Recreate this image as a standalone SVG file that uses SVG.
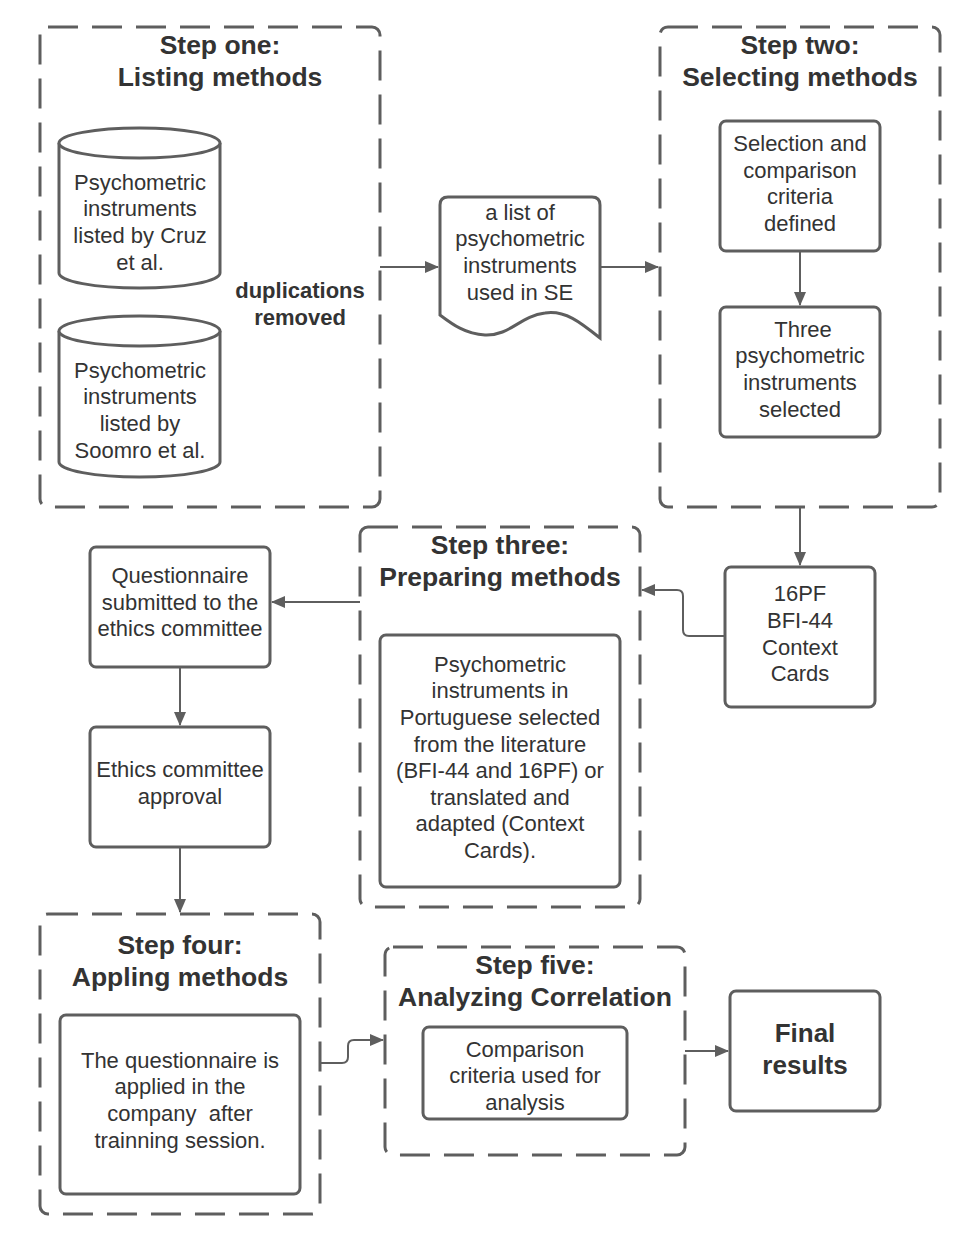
<svg xmlns="http://www.w3.org/2000/svg" width="970" height="1239" viewBox="0 0 970 1239">
<style>
.cont{fill:none;stroke:#5e5e5e;stroke-width:3;stroke-dasharray:30 14}
.box{fill:#fff;stroke:#5e5e5e;stroke-width:3}
.t{font-family:"Liberation Sans",Arial,sans-serif;font-size:22px;fill:#333;text-anchor:middle}
.b{font-family:"Liberation Sans",Arial,sans-serif;font-weight:bold;fill:#333;text-anchor:middle}
.h{font-size:26.5px}
.c{fill:none;stroke:#5e5e5e;stroke-width:2}
</style>
<defs>
<marker id="ar" markerWidth="14" markerHeight="12" refX="13" refY="6" orient="auto" markerUnits="userSpaceOnUse">
<path d="M0,0 L14,6 L0,12 Z" fill="#5e5e5e"/>
</marker>
</defs>
<rect width="970" height="1239" fill="#fff"/>

<g id="step1">
<rect class="cont" x="40" y="27" width="340" height="480" rx="8"/>
<text class="b h" x="220" y="54">Step one:</text>
<text class="b h" x="220" y="86">Listing methods</text>
</g>
<g id="cyl1">
<path class="box" d="M59,143 A80.5,15 0 0 1 220,143 V273 A80.5,15 0 0 1 59,273 Z"/>
<path class="box" d="M59,143 A80.5,15 0 0 0 220,143" fill="none"/>
<text class="t" x="140" y="190">Psychometric</text>
<text class="t" x="140" y="216">instruments</text>
<text class="t" x="140" y="243">listed by Cruz</text>
<text class="t" x="140" y="270">et al.</text>
</g>
<g id="cyl2">
<path class="box" d="M59,331 A80.5,15 0 0 1 220,331 V462 A80.5,15 0 0 1 59,462 Z"/>
<path class="box" d="M59,331 A80.5,15 0 0 0 220,331" fill="none"/>
<text class="t" x="140" y="378">Psychometric</text>
<text class="t" x="140" y="404">instruments</text>
<text class="t" x="140" y="431">listed by</text>
<text class="t" x="140" y="458">Soomro et al.</text>
</g>
<g id="dup">
<text class="b" font-size="22" x="300" y="298">duplications</text>
<text class="b" font-size="22" x="300" y="325">removed</text>
</g>
<g id="doc">
<path class="box" d="M440,205 Q440,197 448,197 H592 Q600,197 600,205 V338 C580,322 565,310 545,313 C520,316 510,336 485,335 C465,334 452,324 440,315 Z"/>
<text class="t" x="520" y="220">a list of</text>
<text class="t" x="520" y="246">psychometric</text>
<text class="t" x="520" y="273">instruments</text>
<text class="t" x="520" y="300">used in SE</text>
</g>

<g id="step2">
<rect class="cont" x="660" y="27" width="280" height="480" rx="8"/>
<text class="b h" x="800" y="54">Step two:</text>
<text class="b h" x="800" y="86">Selecting methods</text>
</g>
<g id="crit">
<rect class="box" x="720" y="121" width="160" height="130" rx="6"/>
<text class="t" x="800" y="151">Selection and</text>
<text class="t" x="800" y="178">comparison</text>
<text class="t" x="800" y="204">criteria</text>
<text class="t" x="800" y="231">defined</text>
</g>
<g id="three">
<rect class="box" x="720" y="307" width="160" height="130" rx="6"/>
<text class="t" x="803" y="337">Three</text>
<text class="t" x="800" y="363">psychometric</text>
<text class="t" x="800" y="390">instruments</text>
<text class="t" x="800" y="417">selected</text>
</g>
<g id="pf">
<rect class="box" x="725" y="567" width="150" height="140" rx="6"/>
<text class="t" x="800" y="601">16PF</text>
<text class="t" x="800" y="628">BFI-44</text>
<text class="t" x="800" y="655">Context</text>
<text class="t" x="800" y="681">Cards</text>
</g>

<g id="step3">
<rect class="cont" x="360" y="527" width="280" height="380" rx="8"/>
<text class="b h" x="500" y="554">Step three:</text>
<text class="b h" x="500" y="586">Preparing methods</text>
</g>
<g id="port">
<rect class="box" x="380" y="635" width="240" height="252" rx="6"/>
<text class="t" x="500" y="672">Psychometric</text>
<text class="t" x="500" y="698">instruments in</text>
<text class="t" x="500" y="725">Portuguese selected</text>
<text class="t" x="500" y="752">from the literature</text>
<text class="t" x="500" y="778">(BFI-44 and 16PF) or</text>
<text class="t" x="500" y="805">translated and</text>
<text class="t" x="500" y="831">adapted (Context</text>
<text class="t" x="500" y="858">Cards).</text>
</g>
<g id="quest">
<rect class="box" x="90" y="547" width="180" height="120" rx="6"/>
<text class="t" x="180" y="583">Questionnaire</text>
<text class="t" x="180" y="610">submitted to the</text>
<text class="t" x="180" y="636">ethics committee</text>
</g>
<g id="ethics">
<rect class="box" x="90" y="727" width="180" height="120" rx="6"/>
<text class="t" x="180" y="777">Ethics committee</text>
<text class="t" x="180" y="804">approval</text>
</g>

<g id="step4">
<rect class="cont" x="40" y="914" width="280" height="300" rx="8"/>
<text class="b h" x="180" y="954">Step four:</text>
<text class="b h" x="180" y="986">Appling methods</text>
</g>
<g id="apply">
<rect class="box" x="60" y="1015" width="240" height="179" rx="6"/>
<text class="t" x="180" y="1068">The questionnaire is</text>
<text class="t" x="180" y="1094">applied in the</text>
<text class="t" x="180" y="1121" xml:space="preserve">company  after</text>
<text class="t" x="180" y="1148">trainning session.</text>
</g>

<g id="step5">
<rect class="cont" x="385" y="947" width="300" height="208" rx="8"/>
<text class="b h" x="535" y="974">Step five:</text>
<text class="b h" x="535" y="1006">Analyzing Correlation</text>
</g>
<g id="comp">
<rect class="box" x="423" y="1027" width="204" height="92" rx="6"/>
<text class="t" x="525" y="1057">Comparison</text>
<text class="t" x="525" y="1083">criteria used for</text>
<text class="t" x="525" y="1110">analysis</text>
</g>
<g id="final">
<rect class="box" x="730" y="991" width="150" height="120" rx="6"/>
<text class="b" font-size="26" x="805" y="1042">Final</text>
<text class="b" font-size="26" x="805" y="1074">results</text>
</g>

<g id="connectors">
<path class="c" d="M380,267 H438" marker-end="url(#ar)"/>
<path class="c" d="M600,267 H658" marker-end="url(#ar)"/>
<path class="c" d="M800,251 V305" marker-end="url(#ar)"/>
<path class="c" d="M800,508 V565" marker-end="url(#ar)"/>
<path class="c" d="M725,636 H689 Q683,636 683,630 V596 Q683,590 677,590 H642" marker-end="url(#ar)"/>
<path class="c" d="M360,602 H272" marker-end="url(#ar)"/>
<path class="c" d="M180,667 V725" marker-end="url(#ar)"/>
<path class="c" d="M180,847 V912" marker-end="url(#ar)"/>
<path class="c" d="M320,1063 H342 Q348,1063 348,1057 V1046 Q348,1040 354,1040 H383" marker-end="url(#ar)"/>
<path class="c" d="M685,1051 H728" marker-end="url(#ar)"/>
</g>
</svg>
